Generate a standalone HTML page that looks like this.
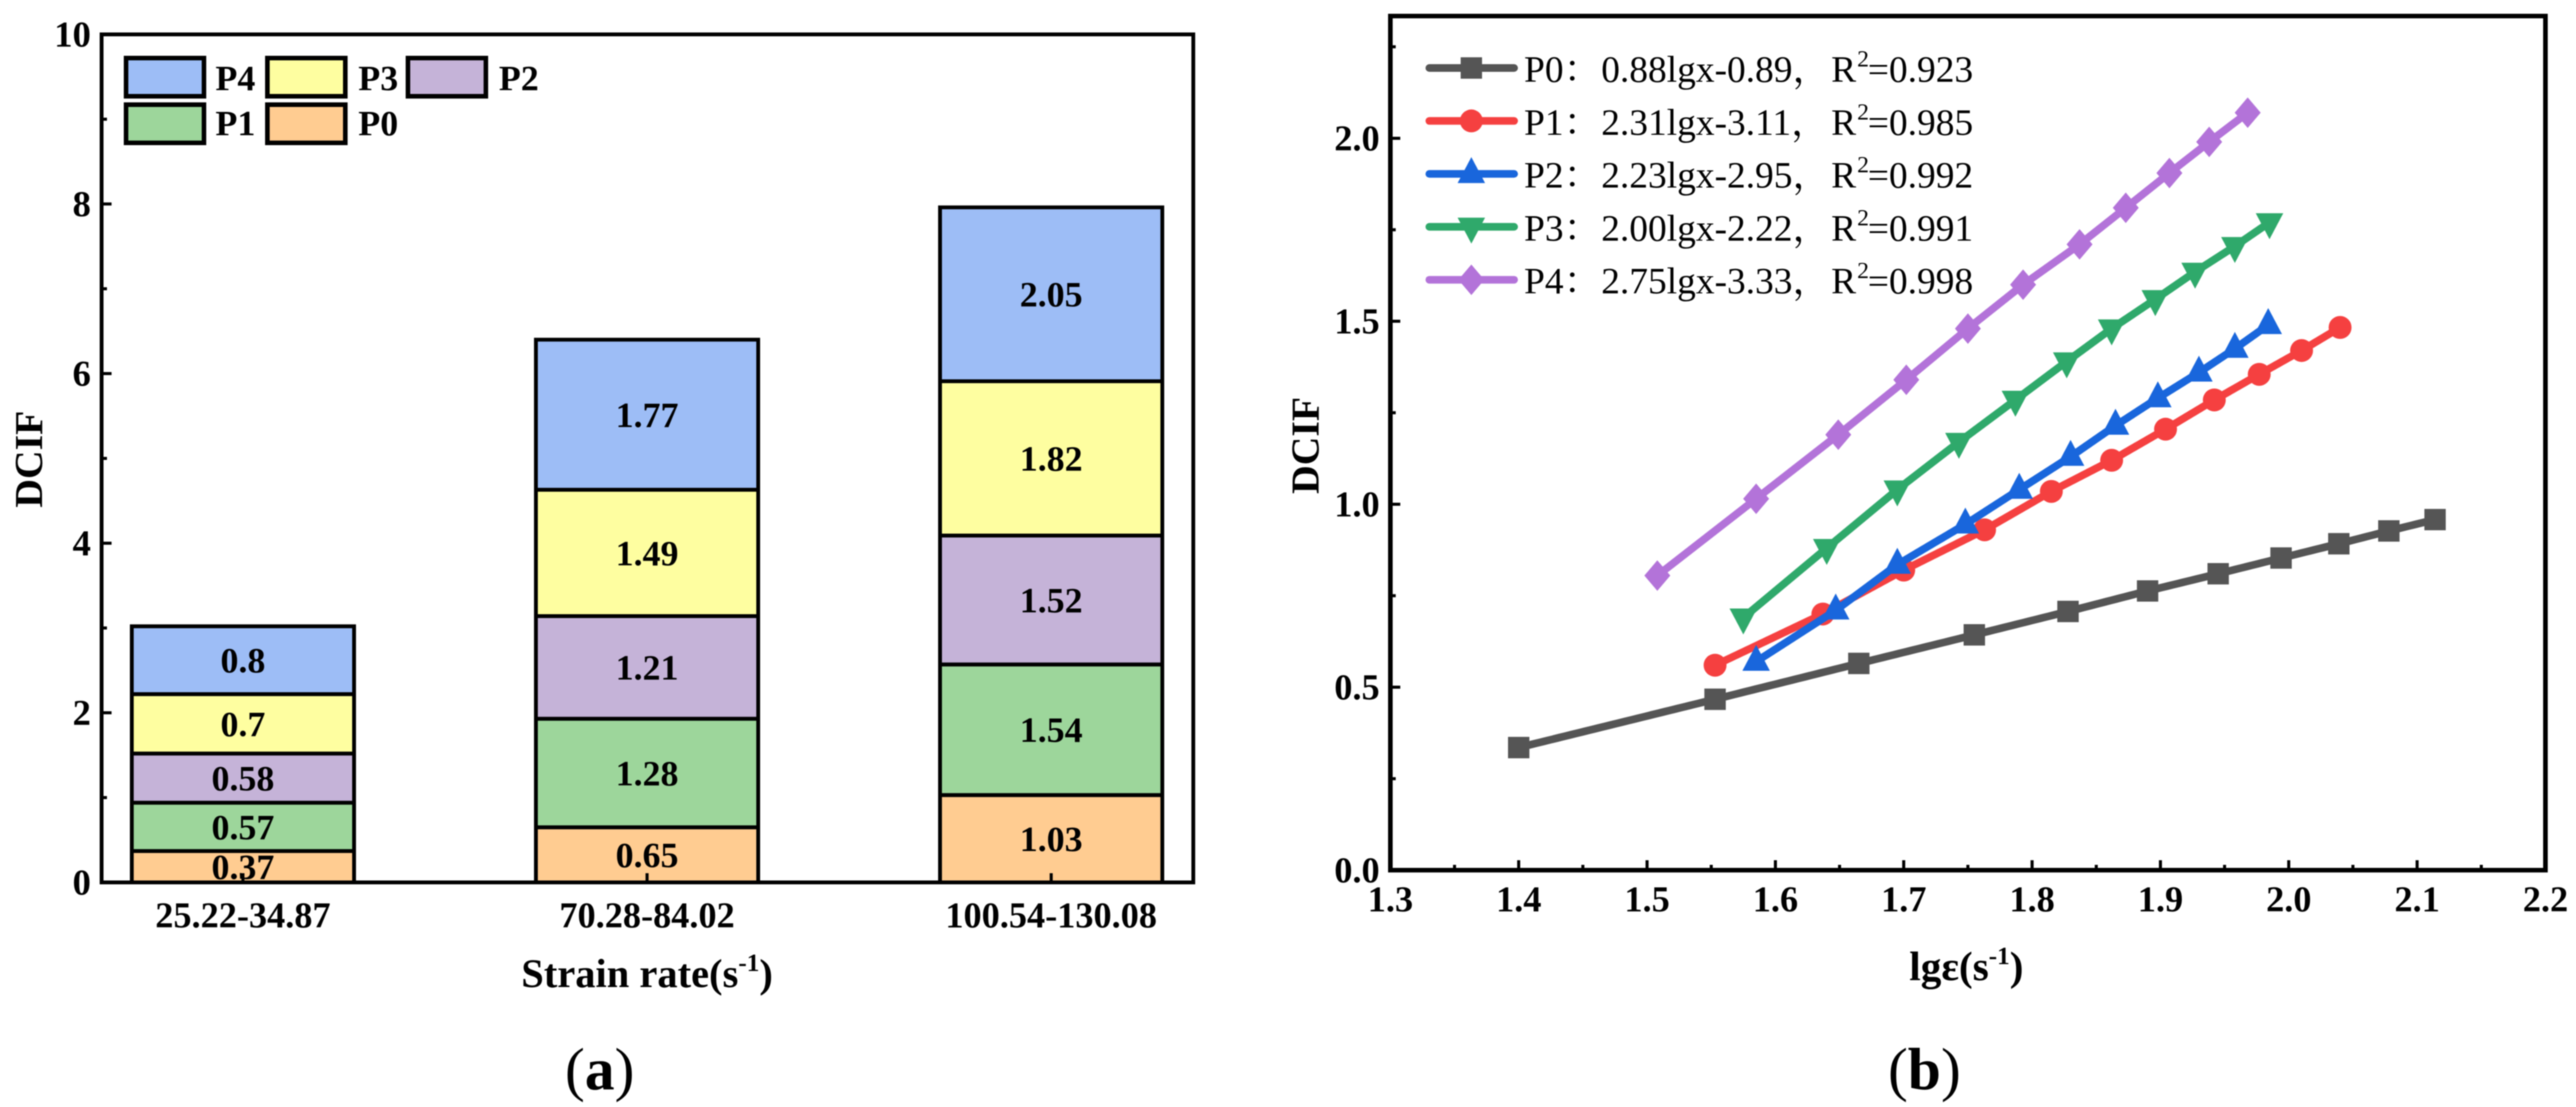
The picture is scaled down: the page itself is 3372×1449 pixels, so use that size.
<!DOCTYPE html>
<html lang="en">
<head>
<meta charset="utf-8">
<title>DCIF charts</title>
<style>
html,body{margin:0;padding:0;background:#fff;}
body{width:3372px;height:1449px;overflow:hidden;}
svg{display:block;filter:blur(0.7px);}
text{font-family:"Liberation Serif","Noto Serif CJK SC",serif;fill:#000;}
.b{font-weight:bold;}
</style>
</head>
<body>
<svg id="fig" xmlns="http://www.w3.org/2000/svg" width="3372" height="1449" viewBox="0 0 3372 1449">
  <rect x="0" y="0" width="3372" height="1449" fill="#fff"/>
  <g id="panelA"></g>
  <g id="panelB"></g>

  <text class="b" font-size="52" text-anchor="middle" transform="translate(55,601) rotate(-90)">DCIF</text>
  <text class="b" font-size="53" text-anchor="middle" x="847" y="1292">Strain rate(s<tspan font-size="33" dy="-21">-1</tspan><tspan dy="21">)</tspan></text>
  <text font-size="78" text-anchor="middle" x="785" y="1426">(<tspan class="b" font-weight="bold">a</tspan>)</text>

  <text class="b" font-size="52" text-anchor="middle" transform="translate(1726,583) rotate(-90)">DCIF</text>
  <text class="b" font-size="54" text-anchor="middle" x="2574" y="1283">lgε(s<tspan font-size="33" dy="-21">-1</tspan><tspan dy="21">)</tspan></text>
  <text font-size="78" text-anchor="middle" x="2519" y="1426">(<tspan font-weight="bold">b</tspan>)</text>
</svg>
<script>
// ---------- Panel (a) data ----------
const barCategories = ['25.22-34.87', '70.28-84.02', '100.54-130.08'];
const p0Bars = [0.37, 0.65, 1.03];
const p1Bars = [0.57, 1.28, 1.54];
const p2Bars = [0.58, 1.21, 1.52];
const p3Bars = [0.7, 1.49, 1.82];
const p4Bars = [0.8, 1.77, 2.05];
const barSeriesNames = ['P0', 'P1', 'P2', 'P3', 'P4'];
const barYTicks = ['0', '2', '4', '6', '8', '10'];

// ---------- Panel (b) data ----------
const p0X = [1.40, 1.553, 1.665, 1.755, 1.828, 1.89, 1.945, 1.994, 2.039, 2.078, 2.114];
const p0Y = [0.335, 0.467, 0.565, 0.643, 0.707, 0.763, 0.81, 0.853, 0.892, 0.927, 0.958];
const p1X = [1.553, 1.637, 1.70, 1.763, 1.815, 1.862, 1.904, 1.942, 1.977, 2.01, 2.04];
const p1Y = [0.56, 0.70, 0.82, 0.93, 1.035, 1.12, 1.205, 1.285, 1.355, 1.42, 1.483];
const p2X = [1.585, 1.647, 1.695, 1.748, 1.79, 1.83, 1.865, 1.898, 1.93, 1.958, 1.984];
const p2Y = [0.57, 0.71, 0.835, 0.945, 1.04, 1.13, 1.215, 1.29, 1.36, 1.425, 1.49];
const p3X = [1.575, 1.64, 1.695, 1.743, 1.787, 1.827, 1.862, 1.896, 1.927, 1.958, 1.985];
const p3Y = [0.69, 0.88, 1.04, 1.17, 1.285, 1.39, 1.48, 1.56, 1.635, 1.705, 1.77];
const p4X = [1.508, 1.585, 1.649, 1.702, 1.75, 1.793, 1.837, 1.873, 1.907, 1.938, 1.968];
const p4Y = [0.805, 1.015, 1.19, 1.34, 1.48, 1.60, 1.71, 1.81, 1.905, 1.99, 2.07];
const lineXTicks = ['1.3', '1.4', '1.5', '1.6', '1.7', '1.8', '1.9', '2.0', '2.1', '2.2'];
const lineYTicks = ['0.0', '0.5', '1.0', '1.5', '2.0'];
const legendSeries = ['P0', 'P1', 'P2', 'P3', 'P4'];
const legendFits = ['0.88lgx-0.89', '2.31lgx-3.11', '2.23lgx-2.95', '2.00lgx-2.22', '2.75lgx-3.33'];
const legendR2 = ['=0.923', '=0.985', '=0.992', '=0.991', '=0.998'];

// ---------- Helpers ----------
const NS = 'http://www.w3.org/2000/svg';
function mk(tag, attrs, parent, txt) {
  const e = document.createElementNS(NS, tag);
  for (const k in attrs) e.setAttribute(k, attrs[k]);
  if (txt !== undefined) e.textContent = txt;
  parent.appendChild(e);
  return e;
}
function markerPoints(kind, cx, cy) {
  if (kind === 'tri-up') return [[cx, cy - 22], [cx - 18, cy + 12], [cx + 18, cy + 12]];
  if (kind === 'tri-down') return [[cx, cy + 22], [cx - 18, cy - 12], [cx + 18, cy - 12]];
  return [[cx, cy - 20], [cx + 17, cy], [cx, cy + 20], [cx - 17, cy]];
}
function drawMarker(kind, cx, cy, color, parent) {
  if (kind === 'square') return mk('rect', {x: cx - 14, y: cy - 14, width: 28, height: 28, fill: color}, parent);
  if (kind === 'circle') return mk('circle', {cx: cx, cy: cy, r: 15, fill: color}, parent);
  return mk('polygon', {points: markerPoints(kind, cx, cy).map(p => p.join(',')).join(' '), fill: color}, parent);
}

// ---------- Panel (a) ----------
const A = document.getElementById('panelA');
const aLeft = 133, aRight = 1562, aTop = 45, aBottom = 1155;
const ayScale = v => aBottom - (aBottom - aTop) * v / 10;
const axScale = i => 318 + 529 * i;
const barWidth = 291;
const barColors = ['#FFCC91', '#9DD69B', '#C5B3D8', '#FEFEA0', '#9DBDF6'];
const barData = [p0Bars, p1Bars, p2Bars, p3Bars, p4Bars];

barCategories.forEach((cat, i) => {
  let cum = 0;
  barData.forEach((vals, s) => {
    const y1 = ayScale(cum), y2 = ayScale(cum + vals[i]);
    const seg = mk('rect', {x: axScale(i) - barWidth / 2, y: y2, width: barWidth, height: y1 - y2, fill: barColors[s], stroke: '#000', 'stroke-width': 5}, A);
    
    
    cum += vals[i];
  });
  cum = 0;
  barData.forEach((vals, s) => {
    const yc = ayScale(cum + vals[i] / 2);
    const lab = mk('text', {x: axScale(i), y: yc + 16, 'font-size': 47, 'font-weight': 'bold', 'text-anchor': 'middle'}, A, String(vals[i]));
    
    
    cum += vals[i];
  });
  const tick = mk('line', {x1: axScale(i), x2: axScale(i), y1: aBottom, y2: aBottom - 12, stroke: '#000', 'stroke-width': 4}, A);
  
  
  const xl = mk('text', {x: axScale(i), y: 1214, 'font-size': 47.5, 'font-weight': 'bold', 'text-anchor': 'middle'}, A, cat);
  
  
});

const aFrame = mk('rect', {x: aLeft, y: aTop, width: aRight - aLeft, height: aBottom - aTop, fill: 'none', stroke: '#000', 'stroke-width': 5}, A);



barYTicks.forEach((t) => {
  const v = Number(t);
  const tk = mk('line', {x1: aLeft, x2: aLeft + 13, y1: ayScale(v), y2: ayScale(v), stroke: '#000', 'stroke-width': 4}, A);
  
  
  const lb = mk('text', {x: 119, y: ayScale(v) + 16, 'font-size': 48, 'font-weight': 'bold', 'text-anchor': 'end'}, A, t);
  
  
  if (v < 10) {
    const mn = mk('line', {x1: aLeft, x2: aLeft + 7, y1: ayScale(v + 1), y2: ayScale(v + 1), stroke: '#000', 'stroke-width': 4}, A);
    
    
  }
});

// legend swatches
const swatchOrder = [4, 3, 2, 1, 0];
const swatchCols = [165, 350, 534];
const swatchTextCols = [282, 469, 653];
const swatchRows = [76, 137];
const swatchBaselines = [118, 177];
swatchOrder.forEach((s, i) => {
  const c = i < 3 ? i : i - 3;
  const r = i < 3 ? 0 : 1;
  const sw = mk('rect', {x: swatchCols[c], y: swatchRows[r], width: 102, height: 50, fill: barColors[s], stroke: '#000', 'stroke-width': 6}, A);
  
  
  const tx = mk('text', {x: swatchTextCols[c], y: swatchBaselines[r], 'font-size': 47, 'font-weight': 'bold'}, A, barSeriesNames[s]);
  
  
});

// ---------- Panel (b) ----------
const B = document.getElementById('panelB');
const bLeft = 1820, bRight = 3332, bTop = 21, bBottom = 1139;
const bxScale = v => bLeft + (v - 1.3) * 1680;
const byScale = v => bBottom - v * 479;
const lineColors = ['#555555', '#F54040', '#1966DC', '#2FA96B', '#B373D9'];
const lineMarkers = ['square', 'circle', 'tri-up', 'tri-down', 'diamond'];
const lineXData = [p0X, p1X, p2X, p3X, p4X];
const lineYData = [p0Y, p1Y, p2Y, p3Y, p4Y];

const bFrame = mk('rect', {x: bLeft, y: bTop, width: bRight - bLeft, height: bBottom - bTop, fill: 'none', stroke: '#000', 'stroke-width': 6}, B);



lineXTicks.forEach((t, i) => {
  const v = Number(t);
  const tk = mk('line', {x1: bxScale(v), x2: bxScale(v), y1: bBottom, y2: bBottom - 13, stroke: '#000', 'stroke-width': 4}, B);
  
  
  const lb = mk('text', {x: bxScale(v), y: 1193, 'font-size': 47.5, 'font-weight': 'bold', 'text-anchor': 'middle'}, B, t);
  
  
  if (i < lineXTicks.length - 1) {
    const mx = bxScale(v + 0.05);
    const mn = mk('line', {x1: mx, x2: mx, y1: bBottom, y2: bBottom - 7, stroke: '#000', 'stroke-width': 4}, B);
    
    
  }
});
lineYTicks.forEach((t) => {
  const v = Number(t);
  const tk = mk('line', {x1: bLeft, x2: bLeft + 13, y1: byScale(v), y2: byScale(v), stroke: '#000', 'stroke-width': 4}, B);
  
  
  const lb = mk('text', {x: 1806, y: byScale(v) + 16, 'font-size': 47.5, 'font-weight': 'bold', 'text-anchor': 'end'}, B, t);
  
  
  const my = byScale(v + 0.25);
  const mn = mk('line', {x1: bLeft, x2: bLeft + 7, y1: my, y2: my, stroke: '#000', 'stroke-width': 4}, B);
  
  
});

lineXData.forEach((xs, s) => {
  const ys = lineYData[s];
  const pts = xs.map((x, i) => bxScale(x) + ',' + byScale(ys[i])).join(' ');
  const pl = mk('polyline', {points: pts, fill: 'none', stroke: lineColors[s], 'stroke-width': 10, 'stroke-linejoin': 'round'}, B);
  
  
  xs.forEach((x, i) => {
    const m = drawMarker(lineMarkers[s], bxScale(x), byScale(ys[i]), lineColors[s], B);
    
    
  });
});

// line legend
const legendRowY = i => 89 + i * 69.3;
legendSeries.forEach((name, i) => {
  const y = legendRowY(i);
  const ll = mk('line', {x1: 1871, x2: 1982, y1: y, y2: y, stroke: lineColors[i], 'stroke-width': 10, 'stroke-linecap': 'round'}, B);
  
  
  const lm = drawMarker(lineMarkers[i], 1926, y, lineColors[i], B);
  
  
  const base = y + 18;
  const t1 = mk('text', {x: 1995, y: base, 'font-size': 49}, B, name + '：');
  
  
  const t2 = mk('text', {x: 2096, y: base, 'font-size': 49}, B, legendFits[i] + '，');
  
  
  const t3 = mk('text', {x: 2397, y: base, 'font-size': 49}, B, 'R');
  
  
  const t4 = mk('text', {x: 2431, y: base - 20, 'font-size': 31}, B, '2');
  
  
  const t5 = mk('text', {x: 2445, y: base, 'font-size': 49}, B, legendR2[i]);
  
  
});
</script>
</body>
</html>
